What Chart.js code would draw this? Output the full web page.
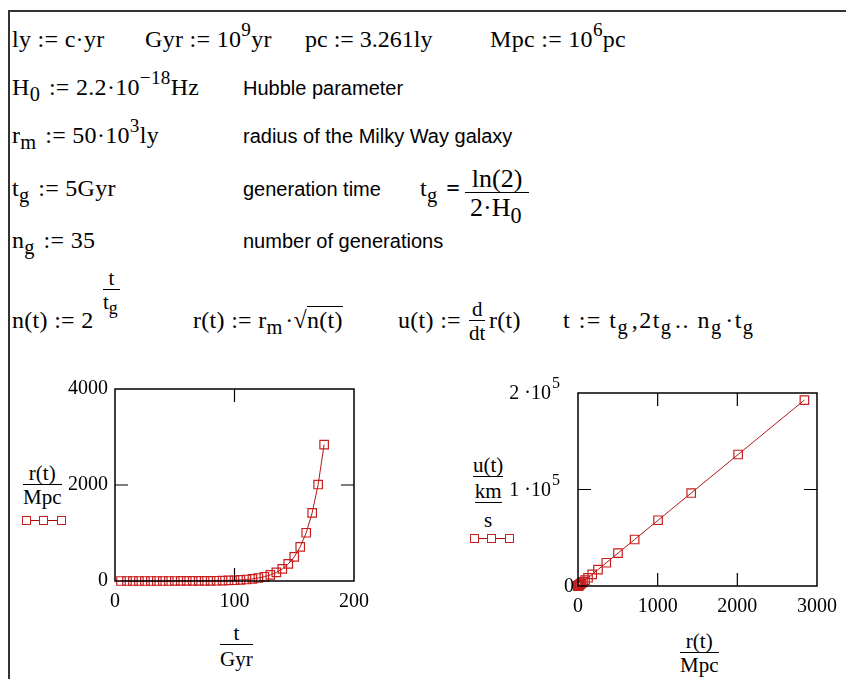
<!DOCTYPE html>
<html>
<head>
<meta charset="utf-8">
<script src="https://cdn.jsdelivr.net/npm/chart.js@4.4.1/dist/chart.umd.min.js"></script>
<style>
  html, body { margin: 0; overflow: hidden; background: #fff; }
  body { width: 846px; height: 679px; position: relative; color: #000; }
  .vline { position: absolute; left: 8px; top: 10px; width: 2px; height: 669px; background: #333; }
  .hline { position: absolute; left: 8px; top: 10px; width: 838px; height: 2px; background: #333; }
  .m { position: absolute; font-family: "Liberation Serif", serif; font-size: 24px; letter-spacing: 0.3px; line-height: 1; white-space: nowrap; }
  .s { position: absolute; font-family: "Liberation Sans", sans-serif; font-size: 20px; line-height: 1; white-space: nowrap; }
  sup { position: relative; top: -0.55em; font-size: 0.8em; vertical-align: baseline; line-height: 0; }
  sub { position: relative; top: 0.3em; font-size: 0.85em; vertical-align: baseline; line-height: 0; margin-right: 0.12em; }
  .fr { position: absolute; display: flex; flex-direction: column; align-items: stretch; text-align: center;
        font-family: "Liberation Serif", serif; font-size: 22px; line-height: 1.05; white-space: nowrap; }
  .fr .den { border-top: 1.5px solid #000; padding-top: 1px; }
  .ol { border-top: 1.3px solid #000; }
  .legend { position: absolute; width: 44px; height: 9px; }
  .legend::before { content: ""; position: absolute; left: 0; right: 0; top: 4px; border-top: 1px solid #b00000; }
  .legend span { position: absolute; top: 0; width: 7px; height: 7px; border: 1px solid #c82020; background: #fff; }
  canvas { position: absolute; }
</style>
</head>
<body>
<div class="vline"></div>
<div class="hline"></div>

<div class="m" style="left:12px;top:27px">ly := c·yr</div>
<div class="m" style="left:145px;top:27px">Gyr := 10<sup>9</sup>yr</div>
<div class="m" style="left:305px;top:27px;letter-spacing:0">pc := 3.261ly</div>
<div class="m" style="left:490px;top:27px">Mpc := 10<sup>6</sup>pc</div>

<div class="m" style="left:12px;top:75px">H<sub>0</sub> := 2.2·10<sup>−18</sup>Hz</div>
<div class="s" style="left:243px;top:78px">Hubble parameter</div>

<div class="m" style="left:12px;top:123px">r<sub>m</sub> := 50·10<sup>3</sup>ly</div>
<div class="s" style="left:243px;top:126px">radius of the Milky Way galaxy</div>

<div class="m" style="left:12px;top:176px">t<sub>g</sub> := 5Gyr</div>
<div class="s" style="left:243px;top:179px">generation time</div>
<div class="m" style="left:420px;top:176px">t<sub>g</sub> <b>=</b></div>
<div class="fr" style="left:465px;top:165px;font-size:26px"><span>ln(2)</span><span class="den" style="padding:1px 5px 0">2·H<sub>0</sub></span></div>

<div class="m" style="left:12px;top:228px">n<sub>g</sub> := 35</div>
<div class="s" style="left:243px;top:231px">number of generations</div>

<div class="m" style="left:12px;top:308px">n(t) := 2</div>
<div class="fr" style="left:103px;top:267px;font-size:21px"><span>t</span><span class="den">t<sub>g</sub></span></div>
<div class="m" style="left:193px;top:308px">r(t) := r<sub>m</sub>·√<span class="ol">n(t)</span></div>
<div class="m" style="left:398px;top:308px">u(t) :=</div>
<div class="fr" style="left:469px;top:298px;font-size:21px"><span>d</span><span class="den">dt</span></div>
<div class="m" style="left:489px;top:308px">r(t)</div>
<div class="m" style="left:563px;top:308px;letter-spacing:1.5px">t := t<sub>g</sub>,2t<sub>g</sub>.. n<sub>g</sub>·t<sub>g</sub></div>

<!-- left plot labels -->
<div class="fr" style="left:23px;top:462px;font-size:21px"><span>r(t)</span><span class="den">Mpc</span></div>
<div class="legend" style="left:22px;top:516px"><span style="left:0px"></span><span style="left:17px"></span><span style="left:35px"></span></div>
<div class="fr" style="left:220px;top:622px;font-size:21px"><span>t</span><span class="den" style="padding-top:3px">Gyr</span></div>

<!-- right plot labels -->
<div class="fr" style="left:473px;top:454px;font-size:21px"><span>u(t)</span><span class="den" style="padding:3px 0 0"><span style="display:inline-flex;flex-direction:column;align-items:stretch;line-height:1.05"><span>km</span><span style="border-top:1.5px solid #000;padding-top:6px">s</span></span></span></div>
<div class="legend" style="left:470px;top:534px"><span style="left:0px"></span><span style="left:17px"></span><span style="left:35px"></span></div>
<div class="fr" style="left:680px;top:630px;font-size:21px"><span>r(t)</span><span class="den">Mpc</span></div>

<canvas id="growth" width="350" height="250" style="left:40px;top:370px"></canvas>
<canvas id="hubble" width="366" height="250" style="left:480px;top:375px"></canvas>

<script>
// time steps t = tg, 2tg .. 35tg  (Gyr)
const tGyr = [5, 10, 15, 20, 25, 30, 35, 40, 45, 50, 55, 60, 65, 70, 75, 80, 85, 90,
              95, 100, 105, 110, 115, 120, 125, 130, 135, 140, 145, 150, 155, 160, 165, 170, 175];
// r(t) in Mpc
const rMpc = [0.0217, 0.0307, 0.0434, 0.0613, 0.0867, 0.123, 0.173, 0.245, 0.347, 0.491,
              0.694, 0.981, 1.39, 1.96, 2.78, 3.93, 5.55, 7.85, 11.1, 15.7, 22.2, 31.4,
              44.4, 62.8, 88.8, 126, 178, 251, 355, 502, 711, 1005, 1421, 2010, 2842];
// u(t) in km/s
const uKms = [1.47, 2.08, 2.94, 4.16, 5.88, 8.32, 11.8, 16.6, 23.5, 33.3, 47.0, 66.5,
              94.1, 133, 188, 266, 376, 532, 753, 1065, 1506, 2129, 3011, 4258, 6022,
              8516, 12044, 17032, 24087, 34064, 48174, 68128, 96349, 136257, 192697];

const growthXTicks = [0, 100, 200];
const growthYTicks = [0, 2000, 4000];
const hubbleXTicks = [0, 1000, 2000, 3000];
const hubbleYTicks = [0, 100000, 200000];
// mantissa and exponent of the u axis labels
const hubbleYBase = ['0', '1 ·10', '2 ·10'];
const hubbleYExp = ['', '5', '5'];

const tickFont = { family: 'Liberation Serif', size: 20 };
const red = '#c81e1e';

// box round the plot and the short inner ticks Mathcad draws
const mathcadFrame = {
    id: 'mathcadFrame',
    afterDatasetsDraw(chart, args, opts) {
        const { ctx, chartArea: a, scales } = chart;
        ctx.save();
        ctx.strokeStyle = '#000';
        ctx.lineWidth = 1.5;
        ctx.strokeRect(a.left, a.top, a.right - a.left, a.bottom - a.top);
        ctx.lineWidth = 1.2;
        ctx.beginPath();
        opts.xInner.forEach(v => {
            const x = scales.x.getPixelForValue(v);
            ctx.moveTo(x, a.bottom); ctx.lineTo(x, a.bottom - 13);
            ctx.moveTo(x, a.top); ctx.lineTo(x, a.top + 13);
        });
        opts.yInner.forEach(v => {
            const y = scales.y.getPixelForValue(v);
            ctx.moveTo(a.left, y); ctx.lineTo(a.left + 13, y);
            ctx.moveTo(a.right, y); ctx.lineTo(a.right - 13, y);
        });
        ctx.stroke();

        // y labels with a raised exponent (u axis only)
        if (opts.yBase) {
            ctx.fillStyle = '#000';
            ctx.textBaseline = 'middle';
            ctx.textAlign = 'right';
            opts.yTicks.forEach((v, i) => {
                const y = scales.y.getPixelForValue(v);
                let x = a.left - (opts.yExp[i] ? 18 : 4);
                if (opts.yExp[i]) {
                    ctx.font = '16px "Liberation Serif"';
                    ctx.fillText(opts.yExp[i], x, y - 9);
                    x -= ctx.measureText(opts.yExp[i]).width + 1;
                }
                ctx.font = '20px "Liberation Serif"';
                ctx.fillText(opts.yBase[i], x, y + 1);
            });
        }
        ctx.restore();
    }
};

function axis(min, max, ticks, fitKey, fitSize, showLabels) {
    return {
        type: 'linear',
        min: min,
        max: max,
        grid: { display: false, drawTicks: false },
        border: { display: false },
        afterBuildTicks: s => { s.ticks = ticks.map(v => ({ value: v })); },
        afterFit: s => { s[fitKey] = fitSize; },
        ticks: {
            display: showLabels !== false,
            font: tickFont,
            color: '#000',
            padding: fitKey === 'width' ? 7 : 9,
            maxRotation: 0,
            autoSkip: false,
            callback: v => String(v)
        }
    };
}

function makeChart(id, points, xs, ys, pad, frame) {
    return new Chart(document.getElementById(id), {
        type: 'line',
        data: {
            datasets: [{
                data: points,
                borderColor: '#b01818',
                borderWidth: 1,
                pointStyle: 'rect',
                pointRadius: 6,
                pointBorderWidth: 1.2,
                pointBorderColor: red,
                pointBackgroundColor: 'rgba(0,0,0,0)',
                clip: false
            }]
        },
        options: {
            responsive: false,
            animation: false,
            parsing: false,
            layout: { padding: pad },
            scales: { x: xs, y: ys },
            plugins: { legend: { display: false }, tooltip: { enabled: false }, mathcadFrame: frame }
        },
        plugins: [mathcadFrame]
    });
}

makeChart('growth',
    tGyr.map((t, i) => ({ x: t, y: rMpc[i] })),
    axis(0, 200, growthXTicks, 'height', 39),
    axis(0, 4000, growthYTicks, 'width', 75),
    { top: 18, right: 36, left: 0, bottom: 0 },
    { xInner: [100], yInner: [2000] });

makeChart('hubble',
    rMpc.map((r, i) => ({ x: r, y: uKms[i] })),
    axis(0, 3000, hubbleXTicks, 'height', 39),
    axis(0, 200000, hubbleYTicks, 'width', 98, false),
    { top: 18, right: 28, left: 0, bottom: 0 },
    { xInner: [1000, 2000], yInner: [100000], yTicks: hubbleYTicks, yBase: hubbleYBase, yExp: hubbleYExp });
</script>
</body>
</html>
